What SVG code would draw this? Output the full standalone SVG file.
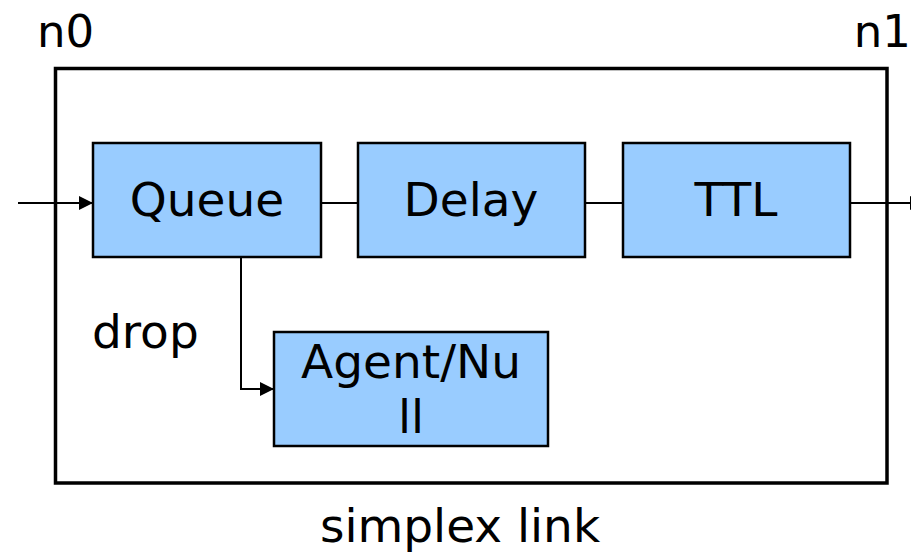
<svg xmlns="http://www.w3.org/2000/svg" width="911" height="553" viewBox="0 0 911 553">
<defs>
<style>
.box{fill:#99ccff;stroke:#000;stroke-width:2.5}
.lbl{font-family:"DejaVu Sans",sans-serif;font-size:47px;fill:#000}
.conn{fill:none;stroke:#000;stroke-width:2}
</style>
<marker id="arr" markerWidth="14" markerHeight="14" refX="14" refY="7" orient="auto" markerUnits="userSpaceOnUse">
<path d="M0,0 L14,7 L0,14 Z" fill="#000"/>
</marker>
</defs>
<rect width="911" height="553" fill="#fff"/>
<g id="link">
<rect x="55.5" y="68.5" width="831.5" height="414.5" fill="none" stroke="#000" stroke-width="3.5"/>
<text class="lbl" x="460" y="542" text-anchor="middle">simplex link</text>
</g>
<g id="n0"><text class="lbl" x="37" y="47" style="font-size:45px">n0</text></g>
<g id="n1"><text class="lbl" x="911" y="47" text-anchor="end" style="font-size:45px">n1</text></g>
<g id="connectors">
<path class="conn" d="M18,203 L93,203" marker-end="url(#arr)"/>
<path class="conn" d="M321,203 L358,203"/>
<path class="conn" d="M585,203 L623,203"/>
<path class="conn" d="M850,203 L924,203" marker-end="url(#arr)"/>
<path class="conn" d="M207,257 L241,257 L241,389 L274,389" marker-end="url(#arr)"/>
<text class="lbl" x="92" y="348">drop</text>
</g>
<g id="queue">
<rect class="box" x="93" y="143" width="228" height="114"/>
<text class="lbl" x="207" y="216" text-anchor="middle">Queue</text>
</g>
<g id="delay">
<rect class="box" x="358" y="143" width="227" height="114"/>
<text class="lbl" x="471" y="216" text-anchor="middle">Delay</text>
</g>
<g id="ttl">
<rect class="box" x="623" y="143" width="227" height="114"/>
<text class="lbl" x="736" y="216" text-anchor="middle">TTL</text>
</g>
<g id="agent">
<rect class="box" x="274" y="332" width="274" height="114"/>
<text class="lbl" x="411" y="378" text-anchor="middle">Agent/Nu</text>
<text class="lbl" x="411" y="433" text-anchor="middle">ll</text>
</g>
</svg>
